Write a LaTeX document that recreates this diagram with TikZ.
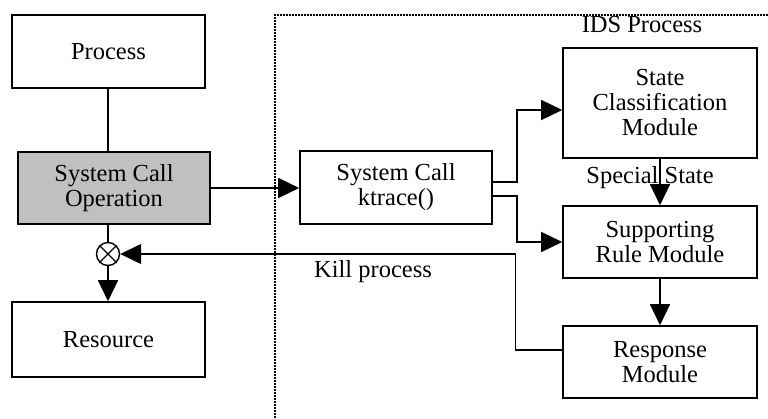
\documentclass[tikz,border=0pt]{standalone}
\usepackage{fontspec}
\setmainfont{Liberation Serif}
\usetikzlibrary{arrows.meta,calc}
\begin{document}
\begin{tikzpicture}[x=1pt,y=-1pt,
  box/.style={draw,line width=1.6pt,minimum width=193pt,align=center,inner sep=0pt,font=\fontsize{24.5}{25}\selectfont},
  lbl/.style={font=\fontsize{24.5}{25}\selectfont,inner sep=0pt},
  conn/.style={line width=1.4pt},
  arr/.style={conn,-{Triangle[length=21pt,width=20pt]}},
  ids/.style={line width=2.2pt,dash pattern=on 1.6pt off 1.4pt}]
\useasboundingbox (0,0) rectangle (768,418);
\node[box,minimum height=73pt] (proc) at (108.5,51.5) {Process};
\node[box,minimum height=72pt,minimum width=192pt,fill={rgb,255:red,192;green,192;blue,192}] (sco) at (114,188) {System Call\\Operation};
\node[box,minimum height=75pt] (res) at (108.5,339.5) {Resource};
\node[draw,circle,line width=1.4pt,minimum size=23pt,inner sep=0pt] (kill) at (108,254) {};
\draw[line width=1.4pt] (kill.north west) -- (kill.south east) (kill.north east) -- (kill.south west);
\node[box,minimum height=73pt,minimum width=192pt] (kt) at (396,187.5) {System Call\\ktrace()};
\node[box,minimum height=110pt,minimum width=194pt] (scm) at (660,103) {State\\Classification\\Module};
\node[box,minimum height=72pt,minimum width=194pt] (srm) at (660,242) {Supporting\\Rule Module};
\node[box,minimum height=72pt,minimum width=194pt] (rm) at (660,362) {Response\\Module};
\draw[ids] (275,418) -- (275,15) -- (768,15);
\node[lbl] (idsl) at (642,25) {IDS Process};
\node[lbl] (ssl) at (650,178) {Special State};
\node[lbl] (kpl) at (373,272) {Kill process};
\draw[conn] (proc.south -| kill) -- (sco.north -| kill);
\draw[conn] (sco.south -| kill) -- (kill.north);
\draw[arr] (kill.south) -- (res.north -| kill);
\draw[arr] (sco.east) -- (kt.west |- sco.east);
\draw[arr] ([yshift=5.5pt]kt.east) -- ++(24,0) |- ([yshift=-7pt]scm.west);
\draw[arr] ([yshift=-8.5pt]kt.east) -- ++(24,0) |- (srm.west);
\draw[arr] (scm.south) -- (srm.north);
\draw[arr] (srm.south) -- (rm.north);
\draw[arr] ([yshift=12pt]rm.west) -- ++(-47,0) |- (kill.east);
\end{tikzpicture}
\end{document}
